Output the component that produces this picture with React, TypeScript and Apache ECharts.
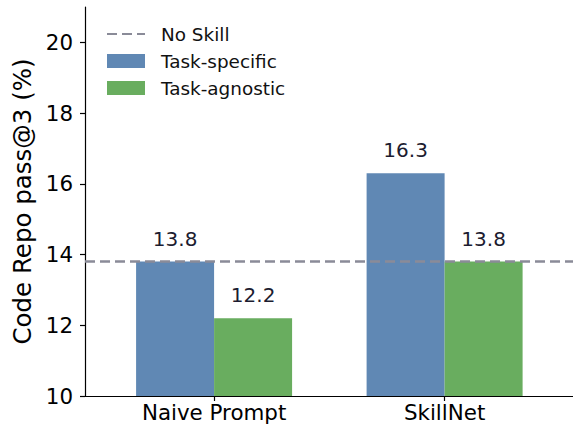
import React, { useEffect, useRef } from "react";
import * as echarts from "echarts";

const categories = ["Naive Prompt", "SkillNet"];
const taskSpecific = [13.8, 16.3];
const taskAgnostic = [12.2, 13.8];
const noSkill = 13.8;
const yTicks = [10, 12, 14, 16, 18, 20];

const FONT = "DejaVu Sans";

export default function App() {
  const ref = useRef<HTMLDivElement>(null);
  useEffect(() => {
    if (!ref.current) return;
    const chart = echarts.init(ref.current, null, { renderer: "svg" });
    const xMin = -0.56;
    const xMax = 1.557;
    const label = {
      show: true,
      position: "top",
      distance: 13,
      fontFamily: FONT,
      fontSize: 20,
      color: "#1c1c30",
      formatter: (p: any) => p.value[1].toFixed(1),
    };
    chart.setOption({
      animation: false,
      textStyle: { fontFamily: FONT },
      grid: { left: 85, right: 0, top: 7, bottom: 33 },
      legend: {
        orient: "vertical",
        left: 101,
        top: 20,
        itemWidth: 38,
        itemHeight: 14,
        itemGap: 9,
        textStyle: { fontFamily: FONT, fontSize: 18.4, color: "#111", padding: [0, 0, 0, 11] },
        data: [
          { name: "No Skill", itemStyle: { opacity: 0 } },
          { name: "Task-specific", icon: "rect" },
          { name: "Task-agnostic", icon: "rect" },
        ],
      },
      xAxis: {
        type: "value",
        min: xMin,
        max: xMax,
        splitLine: { show: false },
        axisLine: { show: true, onZero: false, lineStyle: { color: "#000", width: 1.2 } },
        axisTick: { show: true, customValues: [0, 1], length: 5, lineStyle: { color: "#000", width: 1.2 } },
        axisLabel: {
          customValues: [0, 1],
          formatter: (v: number) => categories[Math.round(v)] ?? "",
          fontFamily: FONT,
          fontSize: 21.4,
          color: "#000",
          margin: 6,
        },
      },
      yAxis: {
        type: "value",
        min: 10,
        max: 21,
        interval: 2,
        name: "Code Repo pass@3 (%)",
        nameLocation: "middle",
        nameGap: 44,
        nameTextStyle: { fontFamily: FONT, fontSize: 24.5, color: "#000" },
        splitLine: { show: false },
        axisLine: { show: true, onZero: false, lineStyle: { color: "#000", width: 1.2 } },
        axisTick: { show: true, length: 5, lineStyle: { color: "#000", width: 1.2 }, customValues: yTicks },
        axisLabel: {
          customValues: yTicks,
          fontFamily: FONT,
          fontSize: 21.4,
          color: "#000",
          margin: 12,
        },
      },
      series: [
        {
          name: "Task-specific",
          type: "bar",
          barWidth: 78,
          barGap: "0%",
          data: taskSpecific.map((v, i) => [i, v]),
          itemStyle: { color: "#6088b4" },
          label,
          z: 2,
        },
        {
          name: "Task-agnostic",
          type: "bar",
          barWidth: 78,
          barGap: "0%",
          data: taskAgnostic.map((v, i) => [i, v]),
          itemStyle: { color: "#69ad5f" },
          label,
          z: 2,
        },
        {
          name: "No Skill",
          type: "line",
          symbol: "none",
          data: [
            [xMin, noSkill],
            [xMax, noSkill],
          ],
          lineStyle: { color: "#8a8b98", width: 2.5, type: [10, 5] },
          itemStyle: { color: "#8a8b98" },
          z: 5,
        },
      ],
    });
    return () => chart.dispose();
  }, []);
  return (
    <div
      ref={ref}
      style={{ position: "absolute", left: 0, top: 0, width: 573, height: 429 }}
    />
  );
}
